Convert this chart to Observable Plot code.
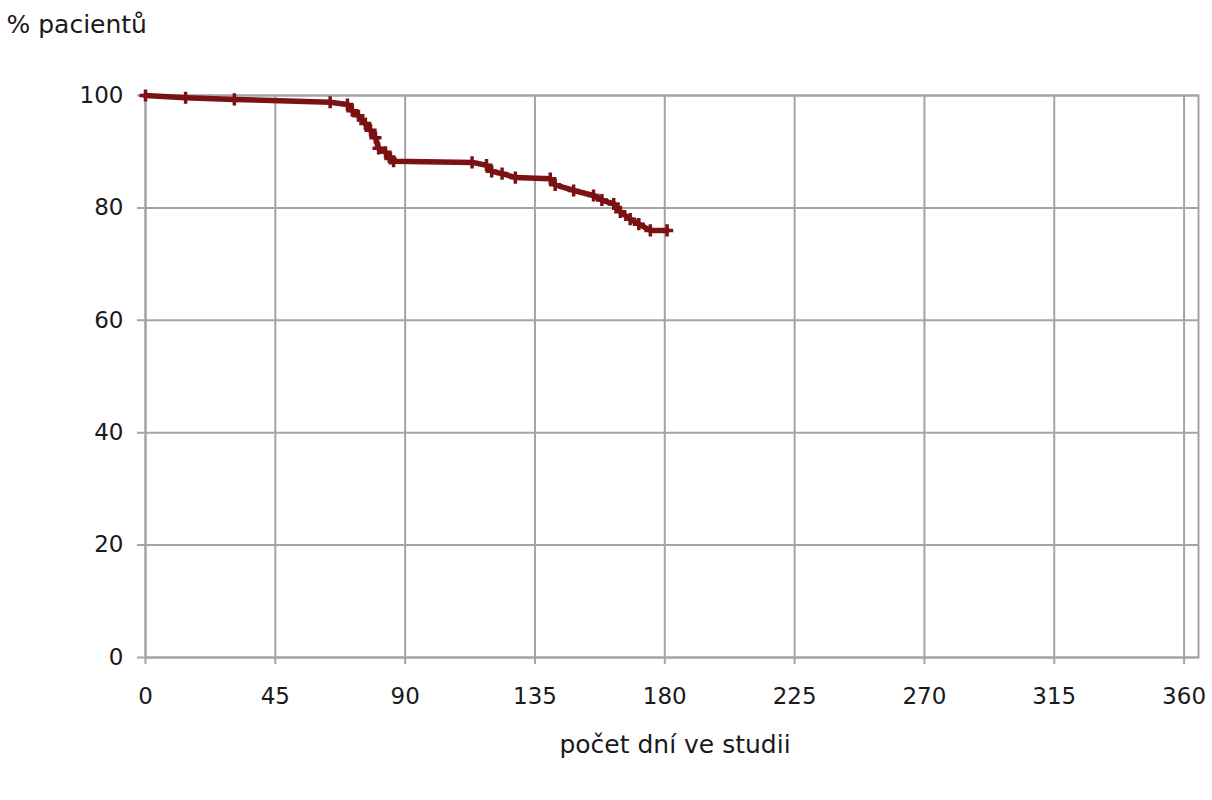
<!DOCTYPE html>
<html>
<head>
<meta charset="utf-8">
<script src="https://cdn.jsdelivr.net/npm/d3@7"></script>
<script src="https://cdn.jsdelivr.net/npm/@observablehq/plot@0.6"></script>
<style>
  html, body { margin: 0; padding: 0; background: #fff; }
  #chart svg { display: block; }
</style>
</head>
<body>
<div id="chart"></div>
<script>
const days = [0, 13.9, 30.8, 64, 70, 71.7, 73.8, 76.2, 78, 79.7, 80.8, 83.2, 84.9, 86,
  113.2, 118.2, 120, 123.6, 128.2, 140.3, 142, 148.4, 155.3, 158.2, 162.3, 164.6, 168, 171, 175, 180.8];
const pct = [100, 99.6, 99.3, 98.8, 98.4, 97.3, 96.4, 95, 93.8, 92.5, 90.6, 89.9, 88.8, 88.3,
  88.1, 87.6, 86.5, 86.1, 85.4, 85.2, 84.1, 83.1, 82.2, 81.4, 80.7, 79.3, 78, 77.1, 76, 76];
const xTicks = [0, 45, 90, 135, 180, 225, 270, 315, 360];
const yTicks = [0, 20, 40, 60, 80, 100];
const yTitle = "% pacientů";
const xTitle = "počet dní ve studii";

const data = days.map((d, i) => ({day: d, pct: pct[i]}));
const grid = "#a4a4a4";
const red = "#7a1214";
const font = "DejaVu Sans, Verdana, sans-serif";

const chart = Plot.plot({
  width: 1212,
  height: 800,
  marginLeft: 145,
  marginRight: 14,
  marginTop: 95,
  marginBottom: 143,
  style: {fontFamily: font, fontSize: "23px", color: "#1a1a1a", background: "#fff"},
  x: {domain: [0, 365]},
  y: {domain: [0, 100]},
  marks: [
    Plot.ruleX(xTicks, {stroke: grid, strokeWidth: 2, insetBottom: -7}),
    Plot.ruleY(yTicks, {stroke: grid, strokeWidth: 2, insetLeft: -8}),
    Plot.frame({stroke: grid, strokeWidth: 2}),
    Plot.axisX({ticks: xTicks, tickSize: 0, tickPadding: 30, label: null, fontSize: 23}),
    Plot.axisY({ticks: yTicks, tickSize: 0, tickPadding: 22, label: null, fontSize: 23}),
    Plot.line(data, {x: "day", y: "pct", stroke: red, strokeWidth: 5.5, strokeLinejoin: "round"}),
    Plot.dot(data, {x: "day", y: "pct", symbol: "plus", r: 4, stroke: red, strokeWidth: 3.5}),
    Plot.text([yTitle], {frameAnchor: "top-left", textAnchor: "start", lineAnchor: "middle", dx: -139, dy: -71, fontSize: 25, fill: "#1a1a1a"}),
    Plot.text([xTitle], {frameAnchor: "bottom", lineAnchor: "middle", dx: 3, dy: 87, fontSize: 25, fill: "#1a1a1a"})
  ]
});
document.getElementById("chart").appendChild(chart);
</script>
</body>
</html>
